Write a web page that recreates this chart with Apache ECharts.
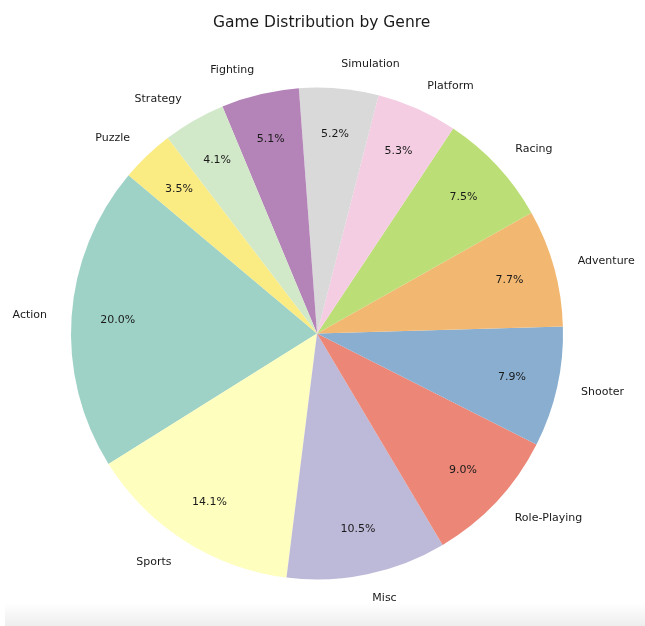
<!DOCTYPE html>
<html>
<head>
<meta charset="utf-8">
<script src="https://cdn.jsdelivr.net/npm/echarts@6/dist/echarts.min.js"></script>
<style>
  html, body { margin: 0; padding: 0; background: #fff; }
  #chart { width: 645px; height: 626px; }
  #band { position: absolute; left: 5px; top: 603px; width: 640px; height: 23px;
          background: linear-gradient(#ffffff, #eeeeee); }
</style>
</head>
<body>
<div id="band"></div>
<div id="chart" style="position:absolute;left:0;top:0;"></div>
<script>
const titleText = 'Game Distribution by Genre';
const genres = ['Action', 'Sports', 'Misc', 'Role-Playing', 'Shooter', 'Adventure',
                'Racing', 'Platform', 'Simulation', 'Fighting', 'Strategy', 'Puzzle'];
const shares = [20.0, 14.1, 10.5, 9.0, 7.9, 7.7, 7.5, 5.3, 5.2, 5.1, 4.1, 3.5];
const colors = ['#9ed2c6', '#fefebe', '#bdb9d8', '#ec8677', '#89aecf', '#f2b872',
                '#bcde76', '#f4cde3', '#d9d9d9', '#b483b8', '#d2e9c9', '#fbeb83'];

const R = 246;
const center = [317, 333.5];
const font = 'DejaVu Sans';

const data = genres.map((g, i) => ({ name: g, value: shares[i], itemStyle: { color: colors[i] } }));
const dataPct = genres.map((g, i) => ({ name: g, value: shares[i] }));

const chart = echarts.init(document.getElementById('chart'), null, { renderer: 'canvas' });
chart.setOption({
  animation: false,
  backgroundColor: 'transparent',
  title: {
    text: titleText,
    left: 208,
    top: 10,
    textStyle: { fontFamily: font, fontSize: 15.5, fontWeight: 'normal', color: '#1a1a1a' }
  },
  series: [
    {
      type: 'pie',
      center: center,
      radius: [0, R],
      startAngle: 140,
      clockwise: false,
      avoidLabelOverlap: false,
      silent: true,
      minShowLabelAngle: 0,
      data: data,
      itemStyle: { borderWidth: 0 },
      label: {
        show: true,
        position: 'outside',
        formatter: '{b}',
        fontFamily: font,
        fontSize: 11,
        color: '#1a1a1a',
        distanceToLabelLine: 0
      },
      labelLine: { show: false, length: R * 0.1, length2: 0 }
    },
    {
      type: 'pie',
      center: center,
      radius: [R * 0.6, R],
      startAngle: 140,
      clockwise: false,
      avoidLabelOverlap: false,
      silent: true,
      data: dataPct,
      itemStyle: { color: 'rgba(0,0,0,0)', borderWidth: 0 },
      label: {
        show: true,
        position: 'inside',
        formatter: p => p.value.toFixed(1) + '%',
        fontFamily: font,
        fontSize: 11,
        color: '#1a1a1a'
      },
      labelLine: { show: false }
    }
  ]
});
</script>
</body>
</html>
